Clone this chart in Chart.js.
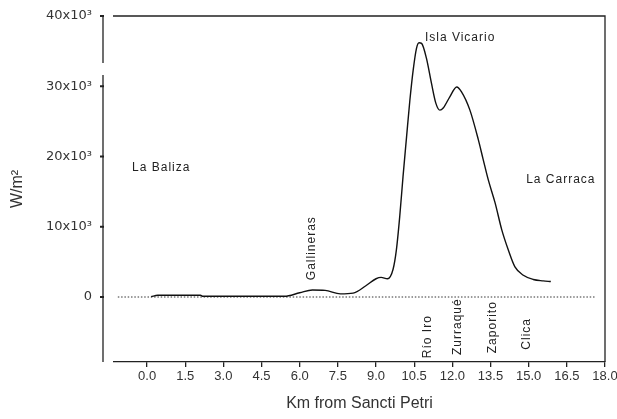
<!DOCTYPE html>
<html>
<head>
<meta charset="utf-8">
<script src="https://cdn.jsdelivr.net/npm/chart.js@4"></script>
<style>
  body { margin: 0; background: #fff; }
  #box { width: 617px; height: 419px; position: relative; }
</style>
</head>
<body>
<div id="box"><canvas id="myChart"></canvas></div>
<script>
// distance from Sancti Petri (km) and W/m2 along the channel
var kmVals = [0.16, 0.42, 2.1, 2.2, 5.4, 6.0, 6.5, 7.0, 7.6, 8.1, 8.6, 9.0, 9.2, 9.45, 9.67, 9.8, 9.93,
  10.06, 10.2, 10.33, 10.46, 10.59, 10.69, 10.79, 10.98, 11.18, 11.35, 11.51, 11.64, 11.9, 12.17,
  12.36, 12.69, 13.02, 13.21, 13.41, 13.68, 13.94, 14.2, 14.46, 14.79, 15.18, 15.57, 15.87];
var wVals = [50, 250, 250, 100, 100, 600, 1000, 950, 450, 550, 1600, 2600, 2800, 2600, 3950, 6700, 11400,
  17100, 22800, 28000, 32300, 35400, 36200, 36100, 34000, 30400, 27600, 26600, 26900, 28500, 29900,
  29200, 26600, 22400, 19600, 16700, 13400, 9600, 6700, 4300, 3100, 2500, 2300, 2200];

var xTicks = [0, 1.5, 3, 4.5, 6, 7.5, 9, 10.5, 12, 13.5, 15, 16.5, 18];
var yTicks = [0, 10000, 20000, 30000, 40000];

// place names, anchored in km and W/m2
var placeNames = ["La Baliza", "Isla Vicario", "La Carraca", "Gallineras", "Río Iro", "Zurraqué", "Zaporito", "Clica"];
var placeKm = [-0.59, 10.92, 14.9, 6.46, 11.04, 12.22, 13.6, 14.94];
var placeW = [18400, 36900, 16700, 2400, -8700, -8250, -8000, -7500];
var placeVert = [false, false, false, true, true, true, true, true];

var pts = kmVals.map(function (k, i) { return {x: k, y: wVals[i]}; });

var framePlugin = {
  id: "frame",
  afterDraw: function (chart) {
    var ctx = chart.ctx, a = chart.chartArea;
    var ys = chart.scales.y, xs = chart.scales.x;
    var ax = a.left - 11;
    ctx.save();
    ctx.strokeStyle = "#222";
    ctx.lineWidth = 1.3;
    // y axis with a break
    var b1 = ys.getPixelForValue(33300), b2 = ys.getPixelForValue(31600);
    ctx.beginPath();
    ctx.moveTo(ax, a.top); ctx.lineTo(ax, b1);
    ctx.moveTo(ax, b2); ctx.lineTo(ax, a.bottom);
    ctx.stroke();
    yTicks.forEach(function (v) {
      var py = ys.getPixelForValue(v);
      ctx.beginPath(); ctx.lineWidth = 2;
      ctx.moveTo(ax - 3, py); ctx.lineTo(ax + 1, py); ctx.stroke();
    });
    ctx.lineWidth = 1.3;
    ctx.beginPath();
    ctx.moveTo(a.left - 1, a.top); ctx.lineTo(a.right, a.top);
    ctx.lineTo(a.right, a.bottom);
    ctx.stroke();
    // place labels
    ctx.fillStyle = "#222";
    ctx.font = "12px 'Liberation Sans', Arial, sans-serif";
    ctx.letterSpacing = "1px";
    placeNames.forEach(function (n, i) {
      var px = xs.getPixelForValue(placeKm[i]), py = ys.getPixelForValue(placeW[i]);
      ctx.save();
      ctx.translate(px, py);
      if (placeVert[i]) ctx.rotate(-Math.PI / 2);
      ctx.textAlign = "left";
      ctx.textBaseline = "middle";
      ctx.fillText(n, 0, 0);
      ctx.restore();
    });
    ctx.restore();
  }
};

new Chart("myChart", {
  type: "line",
  data: {
    datasets: [{
      data: pts,
      borderColor: "#111",
      borderWidth: 1.4,
      pointRadius: 0,
      cubicInterpolationMode: "monotone",
      fill: false
    }, {
      data: [{x: -1.15, y: 0}, {x: 17.6, y: 0}],
      borderColor: "#333",
      borderWidth: 1,
      borderDash: [1.5, 1.8],
      pointRadius: 0
    }]
  },
  options: {
    responsive: true,
    maintainAspectRatio: false,
    animation: false,
    layout: {padding: {top: 16, right: 12, left: 0, bottom: 0}},
    plugins: {legend: {display: false}, tooltip: {enabled: false}},
    scales: {
      x: {
        type: "linear",
        min: -1.3,
        max: 18,
        afterFit: function (s) {
          s.height = 57;
          s.paddingLeft = 0; s.paddingRight = 0;
        },
        afterBuildTicks: function (s) {
          s.ticks = xTicks.map(function (v) { return {value: v}; });
        },
        border: {display: true, color: "#222", width: 1.3},
        grid: {drawOnChartArea: false, color: "#222", tickLength: 5, lineWidth: 1.3},
        ticks: {
          autoSkip: false, maxRotation: 0, padding: 2,
          color: "#333",
          font: {family: "'Liberation Sans', Arial", size: 13},
          callback: function (v) { return Number(v).toFixed(1); }
        },
        title: {
          display: true, text: "Km from Sancti Petri", color: "#333",
          font: {family: "'Liberation Sans', Arial", size: 16},
          padding: {top: 0, bottom: 6}
        }
      },
      y: {
        min: -9250,
        max: 40000,
        afterFit: function (s) {
          s.width = 114;
          s.paddingTop = 0; s.paddingBottom = 0;
        },
        afterBuildTicks: function (s) {
          s.ticks = yTicks.map(function (v) { return {value: v}; });
        },
        border: {display: false},
        grid: {display: false, drawTicks: false},
        ticks: {
          padding: 22,
          color: "#333",
          font: {family: "'DejaVu Sans', sans-serif", size: 13},
          callback: function (v) { return v === 0 ? "0" : (v / 1000) + "x10³"; }
        },
        title: {
          display: true, text: "W/m²", color: "#333",
          font: {family: "'Liberation Sans', Arial", size: 16},
          padding: {top: 8, bottom: 0}
        }
      }
    }
  },
  plugins: [framePlugin]
});
</script>
</body>
</html>
